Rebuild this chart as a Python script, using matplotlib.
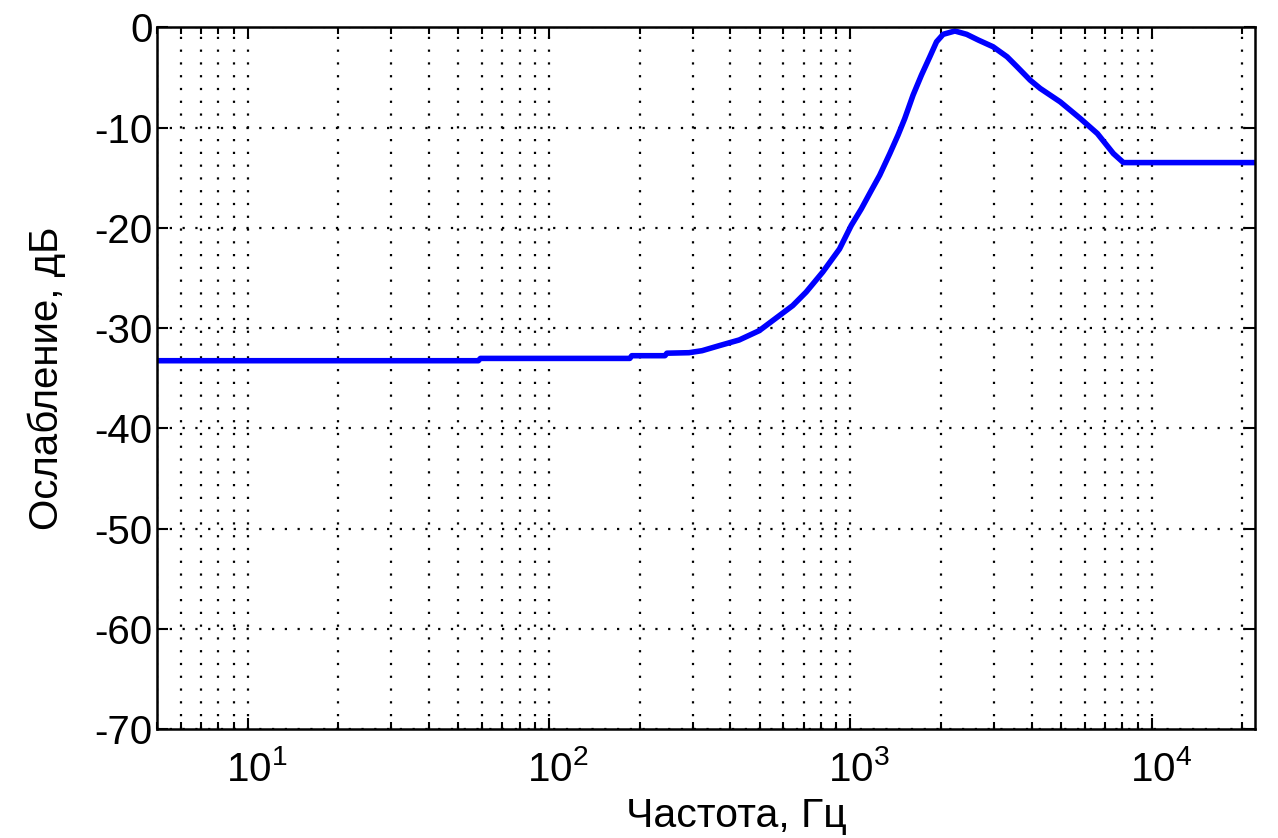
import matplotlib
matplotlib.use("Agg")
import matplotlib.pyplot as plt
from matplotlib.ticker import LogLocator, NullFormatter, FixedLocator
from matplotlib.transforms import ScaledTranslation

plt.rcParams['font.family'] = ['Liberation Sans', 'DejaVu Sans']
plt.rcParams['mathtext.fontset'] = 'custom'
plt.rcParams['mathtext.rm'] = 'Liberation Sans'
plt.rcParams['mathtext.it'] = 'Liberation Sans:italic'
plt.rcParams['mathtext.bf'] = 'Liberation Sans:bold'
plt.rcParams['axes.unicode_minus'] = False

# Data (frequency in Hz, attenuation in dB)
freq_hz = [5, 58.3, 59.2, 185.5, 188.3, 242.6, 246.3, 291.6, 322.2, 367.2,
           427.9, 498.9, 581.6, 644.2, 713.9, 810.5, 921.1, 1007.7, 1088,
           1175, 1252, 1352, 1440, 1516, 1616, 1723, 1837, 1934, 2034, 2225,
           2434, 2660, 2978, 3315, 3579, 3954, 4270, 4977, 5801, 6610, 7472,
           8067, 22050]
atten_db = [-33.25, -33.25, -33.02, -33.02, -32.75, -32.75, -32.5, -32.45,
            -32.25, -31.75, -31.18, -30.25, -28.75, -27.75, -26.4, -24.4,
            -22.1, -19.75, -18.1, -16.25, -14.75, -12.6, -10.75, -9.1, -6.75,
            -4.75, -2.92, -1.42, -0.68, -0.35, -0.68, -1.25, -1.92, -2.92,
            -3.92, -5.25, -6.08, -7.42, -9.08, -10.58, -12.58, -13.48, -13.48]

y_ticks = [-70, -60, -50, -40, -30, -20, -10, 0]
x_limits = [5, 22050]
y_limits = [-70, 0]
x_label = 'Частота, Гц'
y_label = 'Ослабление, дБ'

fig = plt.figure(figsize=(12.78, 8.38), dpi=100)
ax = fig.add_axes([157/1278, 1 - 729/838, (1255 - 157)/1278, (729 - 27.5)/838])

ax.semilogx(freq_hz, atten_db, color='#0000ff', linewidth=4.0,
            solid_joinstyle='round', solid_capstyle='round')

ax.set_xlim(x_limits)
ax.set_ylim(y_limits)
ax.yaxis.set_major_locator(FixedLocator(y_ticks))
ax.xaxis.set_major_locator(LogLocator(base=10, numticks=20))
ax.xaxis.set_minor_locator(LogLocator(base=10, subs=range(2, 10), numticks=50))
ax.xaxis.set_minor_formatter(NullFormatter())

grid_kw = dict(color='black', linestyle=(0, (1, 4.75)), linewidth=1.6)
ax.grid(True, which='major', axis='both', **grid_kw)
ax.xaxis.grid(True, which='minor', **grid_kw)

for s in ax.spines.values():
    s.set_linewidth(1.8)
ax.tick_params(which='both', direction='in', top=True, right=True,
               labelsize=29, colors='black', width=1.5)
ax.tick_params(which='major', length=8)
ax.tick_params(which='minor', length=5)
ax.tick_params(axis='y', which='major', pad=3)
ax.tick_params(axis='x', which='major', pad=15)

# shift x tick labels slightly right so the base "10" sits on the tick
offset = ScaledTranslation(0.09, 0, fig.dpi_scale_trans)
for lbl in ax.get_xticklabels():
    lbl.set_transform(lbl.get_transform() + offset)

ax.set_xlabel(x_label, fontsize=29.5)
ax.set_ylabel(y_label, fontsize=29)
ax.xaxis.set_label_coords((736 - 157)/1098, -0.097)
ax.yaxis.set_label_coords(-0.083, 0.5)

fig.savefig('out.png', dpi=100)
